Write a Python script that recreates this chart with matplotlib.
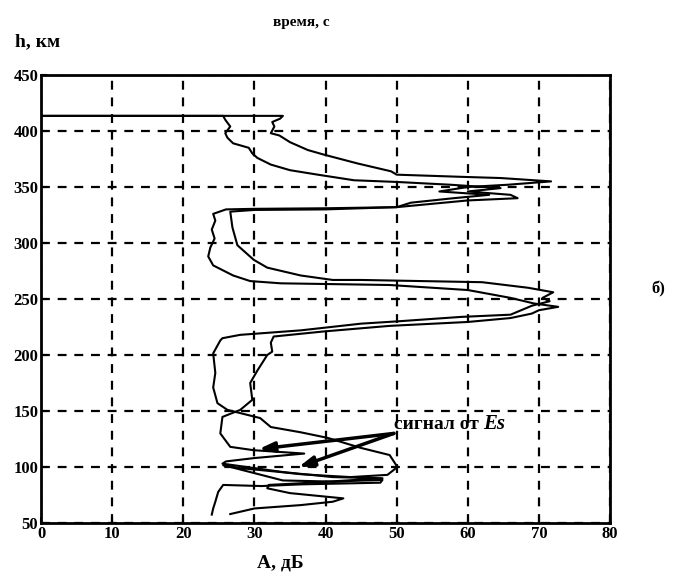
import matplotlib.pyplot as plt
import numpy as np

# амплитуда (дБ) и высота (км) для двух профилей
a1 = [0, 25.6, 25.9, 26.6, 25.9, 26.2, 27, 29.2, 29.7, 30.4, 32.3, 35, 38.9, 44,
      50, 57.6, 64.6, 60, 66, 67, 60, 55, 50, 40, 30, 26, 24.2, 24.5, 24, 24.4,
      23.8, 23.5, 24.2, 27, 29.4, 33.7, 49, 60, 66, 69.3, 72.7, 70, 69, 66, 60,
      49, 39.7, 32.7, 32.3, 32.5, 31.8, 30.4, 29.4, 29.7, 28, 25.5, 25.2, 26.6,
      29.9, 37, 30, 26, 25.5, 34, 41, 48, 43, 38, 32, 31.8, 35, 42.5, 41, 36.5,
      30, 26.6]
h1 = [413.5, 413.5, 410, 404, 398, 394, 389, 385, 380, 376, 370, 365, 361, 356,
      354.5, 352, 349, 346, 343, 340, 338, 335, 332, 331, 330.5, 330, 326, 320,
      312, 304, 296, 288, 280, 271, 266, 264, 262.5, 258, 251, 246, 243, 240,
      237, 233, 229.5, 226, 221, 216.5, 211, 203, 200, 186, 175, 160, 151,
      144.7, 130, 118, 115, 112, 108, 105, 103, 95.5, 91, 90, 88, 86, 84, 81,
      76.7, 72, 69, 66, 63, 58]

a2 = [0, 34, 33.6, 32.5, 32.8, 32.3, 33.5, 35, 37.5, 39.7, 44.5, 49.2, 50,
      59.4, 64.6, 71.7, 65.6, 60, 56, 63, 58, 52, 50, 40, 30, 26.6, 26.9, 27.6,
      29.9, 31.8, 36.5, 41, 45, 62, 68.5, 72, 70.5, 71.5, 69, 66, 59, 50, 45,
      36.5, 28, 25.5, 25.2, 24.2, 24.5, 24.2, 24.8, 26.2, 30.8, 32.3, 36.5,
      40.3, 45, 49, 50.1, 48.7, 43.5, 36.5, 33.7, 28, 25.6, 34, 41, 48, 47.7,
      36.5, 31, 25.6, 24.9, 24.5, 24.2, 24]
h2 = [413.5, 413.5, 411, 408, 404, 398, 396, 390, 383, 379, 371, 364, 361,
      359, 358, 355, 352, 350, 346, 343, 340, 336, 332, 330, 329.5, 328, 314,
      298, 285, 278, 271, 267, 267, 265, 260, 256, 251, 248, 244, 236, 234,
      230, 228, 222, 218, 215, 213, 201.5, 184, 171, 157, 151, 143.7, 135.7,
      131, 126, 117, 110.7, 100, 93, 91, 93.6, 95.5, 99, 101.7, 88, 87, 88.5,
      86, 84.5, 83, 84, 77.7, 69, 63, 57.5]

xticks = [0, 10, 20, 30, 40, 50, 60, 70, 80]
yticks = [50, 100, 150, 200, 250, 300, 350, 400, 450]

plt.rcParams['font.family'] = ['Liberation Serif', 'DejaVu Serif']

fig = plt.figure(figsize=(6.84, 5.75), dpi=100)
ax = fig.add_axes([0.06, 0.0904, 0.832, 0.7792])

ax.plot(a1, h1, color='black', lw=1.5)
ax.plot(a2, h2, color='black', lw=1.5)

ax.set_xlim(0, 80)
ax.set_ylim(50, 450)
ax.set_xticks(xticks)
ax.set_yticks(yticks)
ax.grid(True, color='black', linestyle=(0, (4, 3.5)), lw=1.6)
ax.tick_params(direction='in', length=4, width=1.5, labelsize=12, pad=2)
for lbl in ax.get_xticklabels() + ax.get_yticklabels():
    lbl.set_fontweight('bold')
for sp in ax.spines.values():
    sp.set_linewidth(2)

# стрелки "сигнал от Es"
arrow = dict(arrowstyle='-|>,head_length=0.9,head_width=0.3', color='black',
             lw=2.5, shrinkA=0, shrinkB=0)
ax.annotate('', xy=(30.6, 116), xytext=(49.6, 130), arrowprops=arrow)
ax.annotate('', xy=(36.2, 100), xytext=(49.6, 130), arrowprops=arrow)
ax.text(49.6, 138, 'сигнал от', fontsize=14, fontweight='bold',
        ha='left', va='center')
ax.text(62.1, 138, 'Es', fontsize=15, fontweight='bold', style='italic',
        ha='left', va='center')

fig.text(0.022, 0.92, 'h, км', fontsize=14, fontweight='bold', ha='left')
fig.text(0.44, 0.955, 'время, с', fontsize=11, fontweight='bold', ha='center')
fig.text(0.41, 0.013, 'A, дБ', fontsize=14, fontweight='bold', ha='center')
fig.text(0.962, 0.49, 'б)', fontsize=12, fontweight='bold', ha='center')

fig.savefig('out.png', dpi=100)
